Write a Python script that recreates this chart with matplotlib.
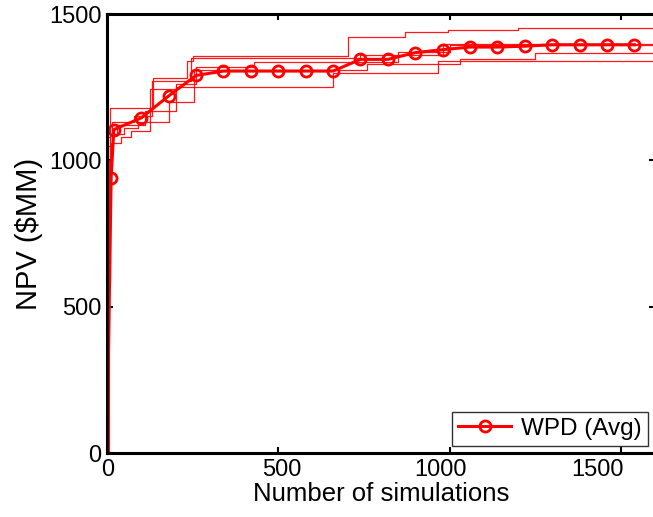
import matplotlib
matplotlib.use("Agg")
import matplotlib.pyplot as plt
import matplotlib.transforms as mtransforms

plt.rcParams['font.family'] = ['Liberation Sans', 'DejaVu Sans']

# Individual runs (step curves)
run1_x = [0, 3, 8, 135, 235, 250, 705, 870, 995, 1200, 1600]
run1_y = [0, 1080, 1180, 1280, 1340, 1355, 1420, 1440, 1447, 1452, 1452]
run2_x = [0, 4, 12, 40, 70, 125, 200, 660, 965, 1600]
run2_y = [0, 900, 1060, 1080, 1100, 1245, 1250, 1297, 1338, 1338]
run3_x = [0, 5, 15, 50, 90, 180, 255, 760, 1030, 1250, 1600]
run3_y = [0, 1000, 1090, 1110, 1130, 1200, 1310, 1330, 1347, 1367, 1367]
run4_x = [0, 2, 10, 30, 110, 200, 260, 430, 850, 1000, 1600]
run4_y = [0, 580, 1090, 1120, 1170, 1260, 1320, 1335, 1370, 1395, 1395]
run5_x = [0, 3, 15, 80, 130, 245, 740, 980, 1600]
run5_y = [0, 1050, 1130, 1150, 1270, 1350, 1360, 1398, 1398]

# Average curve
avg_x = [0, 12, 20, 100, 180, 260, 340, 420, 500, 580, 660, 740, 820, 900,
         980, 1060, 1140, 1220, 1300, 1380, 1460, 1540]
avg_y = [0, 940, 1105, 1145, 1220, 1290, 1305, 1305, 1305, 1305, 1305, 1345,
         1345, 1368, 1378, 1387, 1387, 1390, 1395, 1395, 1395, 1395]

xticks = [0, 500, 1000, 1500]
yticks = [0, 500, 1000, 1500]

fig = plt.figure(figsize=(6.53, 5.17), dpi=100)
ax = fig.add_axes([107/653, 1-453/517, 548/653, (453-14)/517])

for rx, ry in [(run1_x, run1_y), (run2_x, run2_y), (run3_x, run3_y),
               (run4_x, run4_y), (run5_x, run5_y)]:
    ax.step(rx, ry, where='post', color='#ff0000', lw=0.9, alpha=0.9)

ax.plot(avg_x, avg_y, color='#ff0000', lw=2.2, marker='o', ms=8,
        mfc='none', mec='#ff0000', mew=2.0, markevery=slice(1, None),
        label='WPD (Avg)')

ax.set_xlim(0, 1600)
ax.set_ylim(0, 1500)
ax.set_xticks(xticks)
ax.set_yticks(yticks)
ax.set_xticklabels([str(v) for v in xticks])
ax.set_yticklabels([str(v) for v in yticks])
ax.tick_params(direction='in', length=4, width=1.5, labelsize=17,
               top=True, right=True, pad=4)
for s in ax.spines.values():
    s.set_linewidth(2.2)

# shift x tick labels to match reference placement
offsets = [1, 4, -9, -23]
for lab, off in zip(ax.get_xticklabels(), offsets):
    lab.set_transform(lab.get_transform() +
                      mtransforms.ScaledTranslation(off/100, 0, fig.dpi_scale_trans))

ax.set_xlabel('Number of simulations', fontsize=18.5, labelpad=1)
ax.set_ylabel(r'NPV (\$MM)', fontsize=21, labelpad=4)

leg = ax.legend(loc='lower right', fontsize=17.5, frameon=True, fancybox=False,
                edgecolor='black', handlelength=2.2, borderpad=0.25,
                handletextpad=0.4, borderaxespad=0.3)
leg.get_frame().set_linewidth(1.0)

fig.savefig('out.png', dpi=100)
